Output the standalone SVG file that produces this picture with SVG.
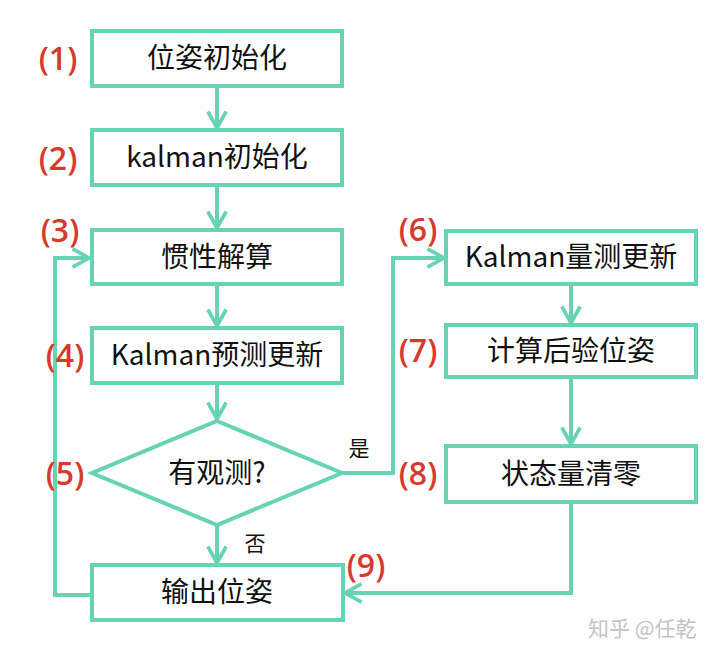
<svg xmlns="http://www.w3.org/2000/svg" width="720" height="656" viewBox="0 0 720 656">
<defs>
<style>
.box{fill:#fff;stroke:#66d3b3;stroke-width:4}
.t{font-family:"Noto Sans CJK SC","Liberation Sans",sans-serif;font-size:28px;fill:#111;text-anchor:middle}
.n{font-family:"Open Sans","Noto Sans CJK SC",sans-serif;font-size:32px;font-weight:600;fill:#d9392c;text-anchor:middle}
.s{font-family:"Noto Sans CJK SC",sans-serif;font-size:21px;fill:#111;text-anchor:middle}
.c{fill:none;stroke:#66d3b3;stroke-width:4;marker-end:url(#ah)}
.w{font-family:"Noto Sans CJK SC",sans-serif;font-size:21px;fill:#c4c4c4}
</style>
<marker id="ah" viewBox="0 0 12 12" refX="10" refY="6" markerWidth="5.5" markerHeight="5.5" orient="auto" markerUnits="strokeWidth">
<path d="M1,1 L10,6 L1,11" fill="none" stroke="#66d3b3" stroke-width="2"/>
</marker>
</defs>
<rect width="720" height="656" fill="#fff"/>
<g id="connectors">
<path class="c" d="M217,86 V128"/>
<path class="c" d="M217,185 V228"/>
<path class="c" d="M217,284 V326"/>
<path class="c" d="M217,384 V419"/>
<path class="c" d="M217,526 V563"/>
<path class="c" d="M91,595 H55 V258 H89"/>
<path class="c" d="M342,473 H393 V258 H444"/>
<path class="c" d="M571,284 V323"/>
<path class="c" d="M571,377 V444"/>
<path class="c" d="M571,503 V593 H345"/>
</g>
<g id="n1"><rect class="box" x="92" y="31" width="250" height="55"/><text class="t" x="217" y="68">位姿初始化</text></g>
<g id="n2"><rect class="box" x="92" y="130" width="250" height="55"/><text class="t" x="217" y="167">kalman初始化</text></g>
<g id="n3"><rect class="box" x="92" y="230" width="250" height="54"/><text class="t" x="217" y="267">惯性解算</text></g>
<g id="n4"><rect class="box" x="92" y="328" width="250" height="55"/><text class="t" x="217" y="365">Kalman预测更新</text></g>
<g id="n5"><polygon class="box" points="217,421 342,473 217,525 92,473"/><text class="t" x="217" y="483">有观测?</text></g>
<g id="n6"><rect class="box" x="92" y="565" width="251" height="55"/><text class="t" x="217" y="602">输出位姿</text></g>
<g id="n7"><rect class="box" x="446" y="231" width="250" height="53"/><text class="t" x="571" y="267">Kalman量测更新</text></g>
<g id="n8"><rect class="box" x="446" y="325" width="250" height="52"/><text class="t" x="571" y="361">计算后验位姿</text></g>
<g id="n9"><rect class="box" x="446" y="446" width="250" height="56"/><text class="t" x="571" y="484">状态量清零</text></g>
<g id="labels">
<text class="n" x="58" y="70">(1)</text>
<text class="n" x="58" y="170">(2)</text>
<text class="n" x="60" y="242">(3)</text>
<text class="n" x="65" y="367">(4)</text>
<text class="n" x="65" y="485">(5)</text>
<text class="n" x="418" y="241">(6)</text>
<text class="n" x="418" y="362">(7)</text>
<text class="n" x="418" y="485">(8)</text>
<text class="n" x="366" y="577">(9)</text>
<text class="s" x="359" y="456">是</text>
<text class="s" x="255" y="551">否</text>
<text class="w" x="588" y="636">知乎 @任乾</text>
</g>
</svg>
